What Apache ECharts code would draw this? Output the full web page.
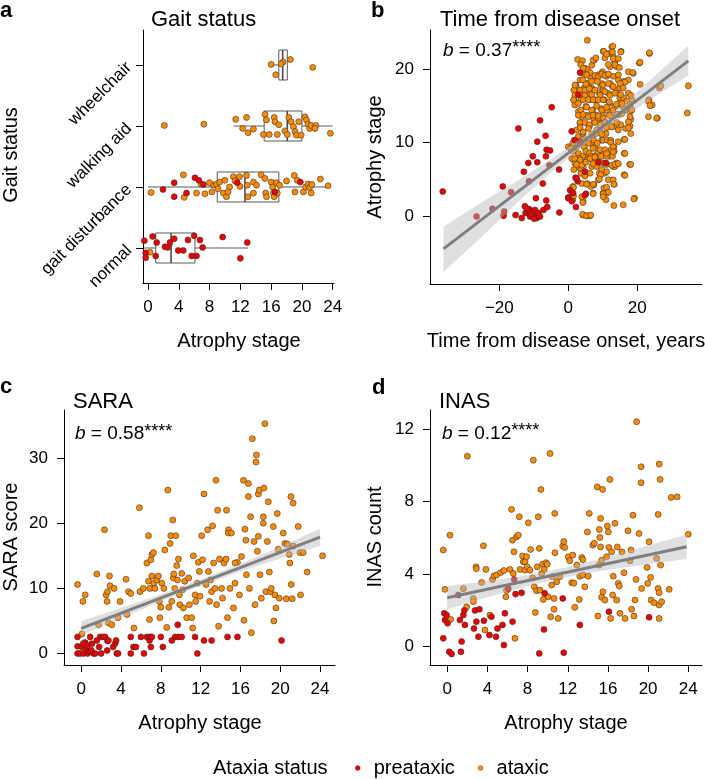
<!DOCTYPE html>
<html>
<head>
<meta charset="utf-8">
<script src="https://cdn.jsdelivr.net/npm/echarts@6/dist/echarts.min.js"></script>
<style>
html,body{margin:0;padding:0;background:#fff;}
#chart{width:705px;height:779px;}
</style>
</head>
<body>
<div id="chart"></div>
<script>
// ---------------- DATA ----------------
const gaitCategories = ['normal', 'gait disturbance', 'walking aid', 'wheelchair'];
const atrophyTicks = [0, 4, 8, 12, 16, 20, 24];
const gaitTicks = [1, 2, 3, 4];
const onsetXTicks = [-20, 0, 20];
const onsetYTicks = [0, 10, 20];
const saraTicks = [0, 10, 20, 30];
const inasTicks = [0, 4, 8, 12];

// Panel a: [atrophy stage, gait level with jitter]
const gaitPreataxic = [
  [1.95,1.96],[3.4,2.07],[3.4,1.84],[5.0,1.90],[6.1,2.15],[6.6,2.11],[7.2,2.04],[11.6,2.07],[16.5,1.92],[19.8,2.08],
  [-0.48,1.12],[-0.3,0.92],[-0.3,0.84],[0.6,1.19],[1.0,0.87],[1.13,1.09],[2.2,1.02],[2.55,1.01],[2.85,1.09],[3.4,1.15],
  [3.93,0.96],[4.58,0.96],[5.2,1.13],[6.0,1.2],[5.67,0.87],[6.3,0.87],[6.75,1.13],[7.1,1.01],[9.7,1.18],[12.9,1.09],[12.0,0.83]
];
const gaitAtaxic = [
  [16.0,4.01],[17.55,4.05],[18.5,4.09],[16.6,3.84],[21.4,3.96],[17.3,4.02],
  [2.12,3.01],[7.26,3.03],[11.4,3.11],[12.3,2.96],[12.8,3.14],[13.0,2.89],[13.7,2.95],[15.2,3.19],[15.4,3.10],[15.0,2.86],
  [16.4,3.14],[16.5,3.07],[15.75,2.86],[16.8,2.86],[17.0,3.02],[17.8,2.92],[18.1,2.86],[18.3,3.14],[18.6,3.07],[18.9,2.99],
  [19.1,2.91],[19.3,2.85],[19.6,3.07],[20.4,3.15],[20.6,3.10],[20.8,3.03],[21.0,2.96],[21.2,3.01],[21.8,3.01],[21.7,2.96],
  [23.7,2.88],[19.9,2.85],
  [0.4,1.91],[4.6,2.20],[4.7,1.83],[6.3,1.90],[6.9,2.05],[7.4,1.89],[8.3,1.92],[8.5,2.03],[8.9,2.05],[9.3,2.08],[9.99,2.11],
  [9.8,1.90],[10.2,1.84],[10.6,2.00],[11.1,2.17],[11.3,2.10],[11.9,2.17],[11.96,2.01],[12.8,2.19],[12.9,2.03],[13.0,1.84],
  [13.7,2.08],[14.1,2.03],[14.7,2.20],[15.2,2.14],[15.3,1.90],[15.4,1.84],[16.0,2.08],[16.2,2.00],[16.3,1.90],[16.4,1.84],
  [16.7,2.07],[16.8,1.90],[17.1,2.03],[18.0,2.10],[19.0,2.19],[19.1,1.92],[19.4,2.11],[20.2,1.92],[20.5,2.00],[20.8,2.05],
  [21.0,1.99],[21.2,1.90],[21.3,2.04],[22.4,2.13],[23.4,2.02],[9.1,1.97],[8.0,2.07],[10.4,1.92],[13.7,1.90],
  [0.26,0.93]
];
// [level, min, q1, median, q3, max]
const gaitBoxes = [
  [1, -0.5, 1.0, 3.0, 6.1, 13.0],
  [2, 0.0, 9.0, 12.6, 17.0, 23.4],
  [3, 11.1, 15.1, 18.1, 20.0, 24.0],
  [4, 16.0, 17.0, 17.5, 18.1, 18.1]
];

// Panel b: [time from onset, atrophy stage]
const onsetPreataxic = [
  [-36.4,3.3],[-26.6,-0.1],[-22.0,0.95],[-19.0,4.0],[-18.8,0.0],[-18.6,0.6],[-16.6,3.2],[-15.3,0.1],[-14.5,11.9],[-13.5,-0.3],
  [-12.9,6.0],[-12.6,1.3],[-12.4,0.4],[-11.6,7.2],[-11.4,4.7],[-11.3,0.9],[-11.1,-0.1],[-10.6,0.6],[-10.3,8.1],[-10.1,0.1],
  [-9.7,0.8],[-9.4,2.4],[-9.2,-0.3],[-9.0,7.3],[-9.0,10.1],[-8.7,0.4],[-8.2,13.0],[-8.2,-0.1],[-7.4,4.4],[-7.2,0.8],
  [-6.6,10.9],[-6.5,8.1],[-6.4,2.1],[-6.3,9.0],[-6.1,1.2],[-5.5,6.9],[-4.8,14.8],[-2.7,6.3],[-2.6,0.45],[0.0,2.5],
  [0.5,3.5],[0.97,11.5],[1.4,3.1],[3.4,19.5],[2.1,5.2],[2.2,1.2],[2.7,4.7],[2.9,16.5],[3.4,10.1],[5.1,3.0],[8.7,7.3],
  [10.9,7.2],[-5.3,8.9],[-10.9,0.3],[-9.9,-0.4],[-11.8,0.7],[-12.0,1.0],
  [1.9,10.3],[4.8,6.0],[2.4,5.1],[0.0,2.4],[4.8,2.8],[1.0,2.0]
];
const onsetAtaxic = [
  [5.5,23.9],[2.7,21.3],[4.1,21.1],[4.8,20.1],[5.5,19.9],[6.3,19.0],[7.5,21.2],[8.2,18.5],[8.7,19.2],[9.4,17.6],[10.1,22.4],
  [10.6,21.5],[11.1,19.0],[11.6,22.1],[12.6,23.0],[13.0,21.7],[13.5,21.0],[12.1,20.3],[14.0,20.3],[15.3,22.4],[16.1,18.3],
  [17.4,19.6],[18.8,19.4],[20.6,20.8],[23.5,22.1],[23.4,15.8],[24.3,15.1],[23.2,13.5],[25.8,13.3],[26.4,17.4],[26.8,17.7],
  [34.8,17.7],[34.5,14.0],[19.2,2.4],[15.9,1.5],[13.3,4.3],[16.2,5.6],[16.2,8.5],[17.8,7.0],[17.9,12.2],[18.1,11.2],
  [18.4,15.8],[17.4,16.7],[17.9,14.2],[16.6,14.4],[16.6,11.9],[16.2,10.4],[15.2,12.4],[14.7,15.3],[14.9,16.1],[14.5,10.1],
  [14.0,7.2],[13.2,9.4],[13.0,6.7],[12.4,9.0],[11.9,8.1],[11.6,4.9],[11.1,3.1],[10.9,2.2],[10.6,5.8],[10.1,7.2],[9.9,8.5],
  [9.7,10.3],[9.2,11.5],[9.0,5.8],[8.7,4.9],[8.4,8.5],[8.0,7.6],[7.7,9.4],[7.4,4.2],[7.2,3.1],[6.8,6.7],[6.5,9.9],[6.1,12.2],
  [5.8,8.1],[5.5,4.4],[5.5,0.0],[6.3,0.0],[4.2,0.1],[4.3,2.0],[3.9,2.6],[3.7,5.8],[3.4,7.2],[2.9,8.5],[2.4,9.4],[1.7,10.3],
  [0.7,9.4],[1.0,7.8],[1.3,4.0],[0.8,2.7],[1.3,2.2],[0.0,9.4],
  [1.6,15.8],[1.9,15.1],[2.2,17.8],[2.9,14.2],[3.4,12.6],[3.9,13.5],[4.3,16.2],[4.6,17.4],[5.1,14.9],[5.5,13.7],[5.8,16.5],
  [6.3,15.8],[6.8,17.4],[7.1,14.4],[7.4,13.1],[7.7,15.8],[8.2,13.7],[8.7,13.3],[9.0,16.7],[9.4,14.6],[9.9,13.7],[10.1,17.1],
  [10.4,15.8],[10.6,12.8],[11.1,14.4],[11.6,16.7],[11.9,15.3],[12.4,13.5],[12.8,17.6],[13.2,12.2],[13.6,14.9],[14.0,17.1],
  [14.5,13.8],[2.4,11.7],[2.9,10.8],[3.7,9.9],[4.2,11.2],[4.6,9.4],[4.8,10.5],[5.1,8.8],[5.3,7.6],[5.8,9.9],[6.1,8.5],
  [6.5,8.1],[6.8,10.8],[7.1,9.2],[7.4,10.3],[7.7,8.1],[8.0,11.2],[8.4,9.9],[8.7,11.7],[9.2,9.0],[9.5,8.1],[9.7,12.6],
  [10.1,10.3],[10.6,9.0],[10.9,11.2],[11.3,10.3],[11.7,12.2],[12.3,10.3],[12.8,8.1],[13.3,8.8],[13.5,6.7],[13.0,4.9],
  [4.3,6.7],[4.1,8.1],[3.4,6.5],[3.2,7.8],[2.4,6.7],[1.9,7.2],[1.6,6.3],[1.4,8.8],[1.3,9.9],[6.3,5.8],[6.5,4.0],[4.8,5.4],
  [8.2,6.7],[9.7,6.3],[11.1,6.0],[11.1,8.1],[10.1,3.1],[10.3,3.8],[4.3,19.4],[3.4,18.5],[5.8,18.1],[6.8,20.5],[7.2,17.1],
  [9.7,18.0],[10.6,19.2],[9.9,19.6],[12.2,18.0],[13.0,19.0],[14.5,18.5],[14.9,17.4],[16.1,16.0],[15.7,14.9],[18.1,13.1],
  [2.4,17.4],[1.6,17.1],[3.6,15.8],
  [10.3,22.4],[12.9,23.1],[12.8,22.3],[15.2,22.3],[23.5,22.2],[7.2,21.2],[8.0,21.5],[11.1,22.0],[13.0,21.4],[14.5,21.4],
  [11.6,20.6],[13.5,20.6],[14.8,20.2],[3.6,20.6],[4.3,20.1],[6.3,19.5],[20.8,20.9],[18.7,19.5],[5.3,19.2],[7.7,19.1],
  [8.7,18.9],[9.7,19.3],[10.6,19.1],[11.6,19.3],[14.5,19.2],[17.4,18.5],[16.4,18.2],[15.0,18.0],[4.2,18.5],[5.1,17.9],
  [6.8,18.3],[8.4,18.3],[10.0,17.8],[11.6,18.0],[13.0,17.6],[15.9,17.4],[18.1,16.4],[16.9,15.6],[20.8,17.9],[1.9,17.8],
  [1.9,16.4],[3.4,17.1],[4.8,17.1],[6.1,17.3],[4.8,16.4],[6.8,16.5],[7.7,17.1],[9.2,16.4],[10.6,16.9],[12.1,16.4],
  [13.5,16.7],[15.2,16.5],[1.5,15.8],[2.9,15.3],[4.3,15.8],[5.8,15.8],[7.2,15.8],[8.7,15.8],[10.1,15.8],[11.9,15.5],
  [14.0,15.2],[15.5,15.3],[3.6,14.4],[5.3,14.8],[6.8,14.4],[8.2,15.0],[9.7,14.4],[11.1,14.8],[12.9,14.4],[16.4,14.5],
  [17.9,15.1],[18.4,14.4],[23.2,15.6],[23.7,15.0],[2.9,13.7],[4.3,13.8],[5.8,13.5],[7.2,13.7],[8.7,13.6],[10.1,13.3],
  [11.9,13.7],[14.0,13.8],[15.5,13.9],[3.4,12.7],[4.8,12.7],[6.1,12.4],[7.7,12.7],[9.2,12.4],[10.6,12.7],[12.1,12.3],
  [14.0,12.7],[17.4,12.8],[17.9,13.5],[25.6,13.3],
  [3.4,12.0],[4.3,11.4],[5.8,11.9],[6.8,11.1],[8.2,11.7],[9.7,11.1],[11.1,12.0],[12.6,12.1],[14.5,11.7],[17.4,12.0],
  [16.4,10.4],[12.3,10.0],[13.0,9.4],[13.0,8.7],[16.4,8.5],[11.1,8.5],[0.7,9.2],[1.9,7.8],[3.4,7.6],[2.4,7.0],[3.9,6.9],
  [5.1,7.3],[6.3,7.8],[7.7,8.0],[7.2,7.1],[9.2,7.3],[11.1,7.0],[12.6,6.9],[13.5,7.0],[14.5,7.1],[18.1,7.0],[16.4,5.5],
  [3.9,4.4],[5.3,4.3],[7.2,4.3],[9.4,5.6],[9.0,5.0],[11.1,3.9],[11.6,3.2],[10.1,3.0],[10.1,2.6],[13.2,4.3],[1.5,3.9],
  [1.5,2.7],[4.2,1.8],[7.2,3.0],[13.2,1.4],[19.0,2.3],[4.2,0.2],[5.3,0.0],[6.5,0.1]
];
const onsetFitX = [-36.2, 34.8];
const onsetFitY = [-4.5, 21.1];
const onsetBandX = [-36.2, -25, -15, -5, 5, 15, 25, 34.8];
const onsetBandLo = [-7.65, -2.8, 1.7, 5.9, 9.8, 13.1, 16.2, 19.1];
const onsetBandHi = [-1.5, 1.9, 4.7, 7.7, 11.0, 14.9, 19.0, 23.2];

// Panel c: [atrophy stage, SARA score]
const saraPreataxic = [
  [-0.37,2.55],[-0.37,1.1],[-0.37,0],[-0.1,0],[0.07,1.0],[0.23,0],[0.4,1.7],[0.5,0.7],[0.64,0],[0.84,0.35],[0.9,2.55],
  [1.07,1.5],[1.24,0],[1.4,0],[1.57,2.0],[1.9,2.55],[2.17,2.55],[2.4,2.55],[2.6,0.45],[2.64,1.9],[2.74,2.0],[3.2,1.0],
  [3.4,1.5],[3.5,2.0],[3.58,0],[3.7,0],[4.98,0],[4.98,2.55],[5.25,1.0],[5.5,1.0],[6.0,2.55],[6.3,0],[6.6,2.55],[6.86,2.0],
  [6.92,2.55],[7.0,1.0],[7.1,2.55],[8.0,2.55],[8.2,1.0],[9.1,2.0],[9.43,2.55],[9.7,4.4],[9.77,2.55],[10.1,2.55],[11.44,2.55],
  [11.67,0],[12.34,2.0],[13.1,2.0],[14.7,2.55],[15.7,2.55],[20.13,2.0],[0.2,1.5],[0.6,1.2],[1.0,0.5],[1.8,1.0],[2.0,0.0]
];
const saraAtaxic = [
  [-0.37,10.6],[0.07,3.0],[0.17,8.0],[0.4,9.0],[1.57,12.2],[1.74,4.4],[2.34,19.0],[2.5,9.0],[2.6,8.0],[2.64,9.5],[2.74,4.7],
  [2.84,11.9],[2.9,10.4],[3.08,4.4],[3.3,10.0],[3.7,5.5],[3.9,8.0],[4.5,11.4],[4.6,6.0],[4.75,9.5],[4.98,9.2],[5.3,3.9],
  [5.85,22.4],[5.9,9.5],[6.25,10.0],[6.6,13.9],[6.76,18.1],[6.86,5.2],[7.0,14.4],[7.1,15.2],[7.26,15.5],[6.76,11.1],[6.9,10.0],
  [7.1,11.9],[7.3,10.8],[7.4,10.0],[7.6,11.3],[7.75,11.9],[7.85,8.0],[7.9,5.5],[8.0,7.1],[8.1,10.8],[8.3,10.0],[8.4,15.9],
  [8.6,4.0],[8.7,25.1],[8.8,7.1],[8.93,16.9],[9.0,18.1],[9.1,8.0],[9.2,20.5],[9.26,11.6],[9.3,12.2],[9.4,10.0],[9.5,18.1],
  [9.6,13.5],[9.67,11.3],[9.77,14.5],[9.87,9.0],[9.9,7.5],[10.1,12.3],[10.2,9.8],[10.27,7.0],[10.4,11.1],[10.6,5.5],[10.8,11.6],
  [10.87,7.5],[11.1,5.5],[11.2,3.9],[11.27,15.0],[11.44,9.0],[11.5,8.0],[11.67,10.8],[11.77,14.0],[11.87,12.6],[11.94,8.8],
  [12.1,18.1],[12.2,14.4],[12.34,24.5],[12.54,10.6],[12.7,19.0],[12.78,12.6],[12.9,8.0],[13.0,11.3],[13.1,9.5],[13.2,19.6],
  [13.3,13.9],[13.44,10.0],[13.54,26.6],[13.6,7.5],[13.7,22.0],[13.8,4.2],[13.9,14.5],[14.1,10.0],[14.2,8.5],[14.35,13.9],
  [14.55,14.5],[14.6,22.0],[14.7,5.5],[14.8,19.0],[14.78,18.5],[14.95,10.0],[15.1,18.5],[15.3,7.0],[15.45,10.8],[15.7,14.0],
  [15.9,9.0],[16.1,14.9],[16.3,26.6],[16.35,5.1],[16.45,19.1],[16.55,17.4],[16.6,12.1],[16.8,24.1],[16.8,26.1],[16.9,10.0],
  [17.02,21.0],[17.1,3.2],[17.2,33.0],[17.36,17.2],[17.46,7.5],[17.56,29.4],[17.6,30.5],[17.7,15.7],[17.8,18.0],[17.8,24.5],
  [17.9,25.1],[17.96,12.1],[18.1,8.5],[18.3,20.0],[18.3,21.0],[18.36,25.4],[18.46,35.3],[18.56,9.5],[18.7,17.2],[18.8,23.3],
  [18.9,12.5],[19.0,9.5],[19.1,10.0],[19.3,19.5],[19.36,5.0],[19.46,9.0],[19.56,7.0],[19.7,21.5],[19.8,16.0],[19.9,8.5],
  [20.3,18.5],[20.47,16.9],[20.6,8.4],[20.7,16.8],[20.9,15.2],[20.97,13.9],[21.07,24.1],[21.1,10.6],[21.2,8.4],[21.3,23.1],
  [21.8,19.5],[21.97,15.5],[22.04,9.0],[22.3,15.5],[22.7,12.5],[24.25,15.0],[21.3,16.5],[15.45,13.9]
];
const saraFitX = [0, 24.0];
const saraFitY = [3.87, 17.86];
const saraBandX = [0, 4, 8, 12, 16, 20, 24];
const saraBandLo = [2.8, 5.4, 8.0, 10.35, 12.6, 14.6, 16.5];
const saraBandHi = [5.0, 7.0, 9.1, 11.4, 13.8, 16.4, 19.2];

// Panel d: [atrophy stage, INAS count]
const inasPreataxic = [
  [-0.4,0.46],[-0.3,1.84],[-0.23,1.47],[-0.07,1.74],[0.03,1.29],[0.2,-0.28],[0.43,-0.4],[1.26,1.47],[1.36,-0.28],[1.43,0.28],
  [1.6,1.74],[1.7,2.0],[1.76,1.2],[2.66,1.0],[2.76,2.0],[2.9,1.38],[3.1,0.55],[3.2,2.06],[3.65,1.43],[4.2,0.64],[4.4,1.65],
  [4.85,0.55],[5.0,1.0],[5.5,1.2],[5.64,0.09],[5.74,1.84],[6.08,3.2],[6.5,1.38],[6.67,3.7],[6.8,2.9],[7.4,2.97],[9.16,-0.37],
  [9.63,0.95],[9.7,2.94],[11.5,2.66],[11.6,-0.33],[13.2,1.2],[16.1,1.93],[20.1,1.62],[1.1,2.85]
];
const inasAtaxic = [
  [-0.4,5.33],[-0.23,3.16],[0.27,6.15],[0.33,1.5],[1.6,3.2],[1.93,2.2],[2.0,10.5],[2.6,2.66],[2.6,2.48],[2.86,4.4],[2.9,4.3],
  [3.42,3.54],[3.6,5.56],[3.75,0.92],[3.85,4.26],[4.25,1.74],[4.5,3.7],[4.65,3.9],[4.9,3.95],[5.3,4.08],[5.64,4.2],[5.84,2.75],
  [5.9,3.1],[6.24,4.26],[6.4,7.57],[6.5,5.87],[6.57,4.04],[6.64,5.23],[6.74,0.46],[6.9,6.06],[7.07,6.15],[7.17,7.16],[7.24,4.26],
  [7.5,5.0],[7.57,4.68],[7.74,4.22],[7.74,4.68],[7.9,4.96],[7.97,4.4],[8.07,6.83],[8.23,4.22],[8.3,5.36],[8.5,3.8],[8.57,10.28],
  [8.67,3.3],[8.77,1.89],[8.9,3.08],[8.96,4.4],[9.06,7.16],[9.16,5.42],[9.23,3.12],[9.33,8.67],[9.4,4.04],[9.5,4.54],[9.56,2.6],
  [9.66,4.26],[9.83,4.63],[9.96,4.55],[10.06,2.75],[10.23,10.65],[10.3,1.65],[10.4,3.4],[10.46,3.86],[10.63,2.06],[10.63,2.66],
  [10.7,7.35],[10.72,5.18],[10.9,3.58],[11.05,1.56],[11.2,3.86],[11.5,5.55],[11.6,5.8],[11.7,5.47],[12.05,4.96],[12.2,4.74],
  [12.4,3.53],[12.5,5.05],[12.6,3.5],[12.7,2.17],[12.9,4.5],[13.15,2.6],[13.2,3.89],[13.4,4.92],[13.5,3.95],[13.5,4.8],
  [13.7,3.3],[13.95,6.33],[14.04,3.89],[14.14,7.35],[14.5,5.6],[14.64,5.7],[14.94,8.81],[15.0,1.69],[15.14,6.46],[15.14,4.5],
  [15.2,6.02],[15.27,5.5],[15.27,7.07],[15.37,4.77],[15.37,2.72],[15.47,8.67],[15.5,3.03],[15.7,2.57],[15.87,4.96],[15.94,6.65],
  [16.04,6.33],[16.1,5.47],[16.2,9.22],[16.27,1.56],[16.37,5.23],[16.47,2.85],[16.53,3.89],[16.7,6.8],[16.87,2.57],[16.93,5.5],
  [17.03,3.49],[17.13,3.34],[17.2,1.84],[17.4,5.23],[17.6,4.08],[17.7,1.56],[18.0,6.39],[18.2,4.74],[18.3,5.33],[18.36,2.06],
  [18.5,7.25],[18.6,1.69],[18.7,2.57],[18.8,3.71],[18.86,12.4],[19.1,6.24],[19.3,9.04],[19.3,9.92],[19.36,3.21],[19.9,4.37],
  [19.97,3.49],[20.1,5.78],[20.25,3.82],[20.3,2.57],[20.6,2.42],[20.85,4.87],[21.0,7.29],[21.0,3.21],[21.1,10.07],[21.2,9.22],
  [21.1,2.98],[21.1,2.3],[21.25,4.5],[21.35,2.48],[21.1,1.56],[22.1,3.16],[22.3,8.23],[22.9,8.26],[24.0,6.2]
];
const inasFitX = [0, 23.84];
const inasFitY = [2.70, 5.51];
const inasBandX = [0, 4, 8, 12, 16, 20, 23.84];
const inasBandLo = [2.06, 2.72, 3.34, 3.85, 4.24, 4.54, 4.84];
const inasBandHi = [3.34, 3.62, 3.94, 4.39, 4.94, 5.58, 6.18];

const statLabels = ['0.37', '0.58', '0.12'];
const legendNames = ['preataxic', 'ataxic'];

// ---------------- STYLE ----------------
const FONT = '"Liberation Sans", Arial, Helvetica, sans-serif';
const RED = '#ee0000';
const ORANGE = '#ff8c00';
const EDGE = '#333333';

const chart = echarts.init(document.getElementById('chart'), null, {renderer: 'canvas'});

function minusFmt(v) { return v < 0 ? '\u2212' + Math.abs(v) : String(v); }

function xAxisDef(gi, min, max, ticks, fmt) {
  return {
    type: 'value', gridIndex: gi, min: min, max: max,
    axisLine: {show: true, onZero: false, lineStyle: {color: '#000', width: 1}},
    axisTick: {show: true, length: 7, lineStyle: {color: '#000'}, customValues: ticks},
    axisLabel: {show: true, color: '#000', fontSize: 17, fontFamily: FONT, margin: 16,
      customValues: ticks, formatter: fmt || (v => String(v))},
    splitLine: {show: false}
  };
}
function yAxisDef(gi, min, max, ticks, fmt, rotate) {
  return {
    type: 'value', gridIndex: gi, min: min, max: max,
    axisLine: {show: true, onZero: false, lineStyle: {color: '#000', width: 1}},
    axisTick: {show: true, length: 7, lineStyle: {color: '#000'}, customValues: ticks},
    axisLabel: {show: true, color: '#000', fontSize: 17, fontFamily: FONT, margin: rotate ? 14 : 16,
      rotate: rotate || 0, customValues: ticks, formatter: fmt || (v => String(v))},
    splitLine: {show: false}
  };
}

function scatterSeries(name, gi, data) {
  return {
    type: 'scatter', name: name, xAxisIndex: gi, yAxisIndex: gi, data: data,
    symbol: 'circle', symbolSize: 6, z: 3,
    itemStyle: {color: name === 'preataxic' ? RED : ORANGE, borderColor: EDGE, borderWidth: 0.6, opacity: 1}
  };
}
function fitSeries(gi, xs, ys) {
  return {
    type: 'line', xAxisIndex: gi, yAxisIndex: gi, data: xs.map((x, i) => [x, ys[i]]),
    showSymbol: false, symbol: 'none', z: 6, silent: true,
    lineStyle: {color: '#7f7f7f', width: 3}
  };
}
function bandSeries(gi, xs, lo, hi) {
  return {
    type: 'custom', xAxisIndex: gi, yAxisIndex: gi, z: 5, silent: true,
    data: [[xs[0], lo[0]]],
    renderItem: function (params, api) {
      const pts = [];
      for (let i = 0; i < xs.length; i++) pts.push(api.coord([xs[i], hi[i]]));
      for (let i = xs.length - 1; i >= 0; i--) pts.push(api.coord([xs[i], lo[i]]));
      return {type: 'polygon', shape: {points: pts}, style: {fill: 'rgba(185,185,185,0.45)', stroke: null}};
    }
  };
}

const boxSeries = {
  type: 'custom', xAxisIndex: 0, yAxisIndex: 0, z: 2, silent: true,
  data: gaitBoxes,
  encode: {x: [1, 2, 3, 4, 5], y: 0},
  renderItem: function (params, api) {
    const lvl = api.value(0);
    const pMin = api.coord([api.value(1), lvl]);
    const pQ1 = api.coord([api.value(2), lvl]);
    const pMd = api.coord([api.value(3), lvl]);
    const pQ3 = api.coord([api.value(4), lvl]);
    const pMax = api.coord([api.value(5), lvl]);
    const h = 15;
    const st = {stroke: '#5a5a5a', lineWidth: 1, fill: null};
    return {
      type: 'group', children: [
        {type: 'line', shape: {x1: pMin[0], y1: pMin[1], x2: pQ1[0], y2: pQ1[1]}, style: st},
        {type: 'line', shape: {x1: pQ3[0], y1: pQ3[1], x2: pMax[0], y2: pMax[1]}, style: st},
        {type: 'rect', shape: {x: pQ1[0], y: pQ1[1] - h, width: pQ3[0] - pQ1[0], height: 2 * h}, style: st},
        {type: 'line', shape: {x1: pMd[0], y1: pMd[1] - h, x2: pMd[0], y2: pMd[1] + h},
          style: {stroke: '#4a4a4a', lineWidth: 1.6}}
      ]
    };
  }
};

function txt(x, y, text, size, opts) {
  opts = opts || {};
  return {
    type: 'text', x: x, y: y, rotation: opts.rotation || 0, silent: true,
    style: {
      text: text, fill: '#000', fontSize: size, fontFamily: FONT,
      fontWeight: opts.bold ? 'bold' : 'normal',
      align: opts.align || 'left', verticalAlign: 'middle'
    }
  };
}
function statText(x, y, val) {
  return {
    type: 'text', x: x, y: y, silent: true,
    style: {
      text: '{i|b} = ' + val + '{s|****}', fill: '#000', fontSize: 19, fontFamily: FONT,
      align: 'left', verticalAlign: 'middle',
      rich: {
        i: {fontStyle: 'italic', fontSize: 19, fontFamily: FONT, fill: '#000'},
        s: {fontSize: 18, fontFamily: FONT, fill: '#000', padding: [0, 0, 4, 0]}
      }
    }
  };
}

const option = {
  animation: false,
  backgroundColor: '#ffffff',
  textStyle: {fontFamily: FONT},
  grid: [
    {left: 143, top: 30, width: 191, height: 253, outerBoundsMode: 'none', containLabel: false},
    {left: 430, top: 30, width: 272, height: 254, outerBoundsMode: 'none', containLabel: false},
    {left: 64, top: 410, width: 271, height: 255, outerBoundsMode: 'none', containLabel: false},
    {left: 430, top: 410, width: 272, height: 255, outerBoundsMode: 'none', containLabel: false}
  ],
  xAxis: [
    xAxisDef(0, -0.65, 24.17, atrophyTicks),
    xAxisDef(1, -40.1, 38.75, onsetXTicks, minusFmt),
    xAxisDef(2, -1.73, 25.5, atrophyTicks),
    xAxisDef(3, -1.72, 25.37, atrophyTicks)
  ],
  yAxis: [
    yAxisDef(0, 0.426, 4.574, gaitTicks, v => gaitCategories[Math.round(v) - 1] || '', 45),
    yAxisDef(1, -9.28, 25.3, onsetYTicks),
    yAxisDef(2, -1.77, 37.4, saraTicks),
    yAxisDef(3, -1.01, 13.05, inasTicks)
  ],
  legend: {
    data: legendNames, left: 355, top: 758, orient: 'horizontal', padding: 0,
    itemWidth: 22, itemHeight: 5, itemGap: 23, icon: 'circle', selectedMode: false,
    itemStyle: {borderWidth: 0.4, borderColor: '#555'},
    textStyle: {fontSize: 20, color: '#000', fontFamily: FONT}
  },
  series: [
    boxSeries,
    scatterSeries('ataxic', 0, gaitAtaxic),
    scatterSeries('preataxic', 0, gaitPreataxic),
    scatterSeries('ataxic', 1, onsetAtaxic),
    scatterSeries('preataxic', 1, onsetPreataxic),
    bandSeries(1, onsetBandX, onsetBandLo, onsetBandHi),
    fitSeries(1, onsetFitX, onsetFitY),
    scatterSeries('ataxic', 2, saraAtaxic),
    scatterSeries('preataxic', 2, saraPreataxic),
    bandSeries(2, saraBandX, saraBandLo, saraBandHi),
    fitSeries(2, saraFitX, saraFitY),
    scatterSeries('ataxic', 3, inasAtaxic),
    scatterSeries('preataxic', 3, inasPreataxic),
    bandSeries(3, inasBandX, inasBandLo, inasBandHi),
    fitSeries(3, inasFitX, inasFitY)
  ],
  graphic: [
    txt(0, 11, 'a', 22, {bold: true}),
    txt(371, 11, 'b', 22, {bold: true}),
    txt(0, 387, 'c', 22, {bold: true}),
    txt(372, 388, 'd', 22, {bold: true}),
    txt(151, 19.5, 'Gait status', 22),
    txt(440, 19.5, 'Time from disease onset', 22),
    txt(73, 402, 'SARA', 22),
    txt(439, 402, 'INAS', 22),
    statText(443, 50.5, statLabels[0]),
    statText(75, 434, statLabels[1]),
    statText(442, 433.5, statLabels[2]),
    txt(239, 341, 'Atrophy stage', 20, {align: 'center'}),
    txt(566, 341, 'Time from disease onset, years', 20, {align: 'center'}),
    txt(200, 723, 'Atrophy stage', 20, {align: 'center'}),
    txt(566, 723, 'Atrophy stage', 20, {align: 'center'}),
    txt(11, 155, 'Gait status', 20, {align: 'center', rotation: Math.PI / 2}),
    txt(375, 157, 'Atrophy stage', 20, {align: 'center', rotation: Math.PI / 2}),
    txt(11, 537, 'SARA score', 20, {align: 'center', rotation: Math.PI / 2}),
    txt(375, 537, 'INAS count', 20, {align: 'center', rotation: Math.PI / 2}),
    txt(213, 768, 'Ataxia status', 20)
  ]
};
chart.setOption(option);
</script>
</body>
</html>
